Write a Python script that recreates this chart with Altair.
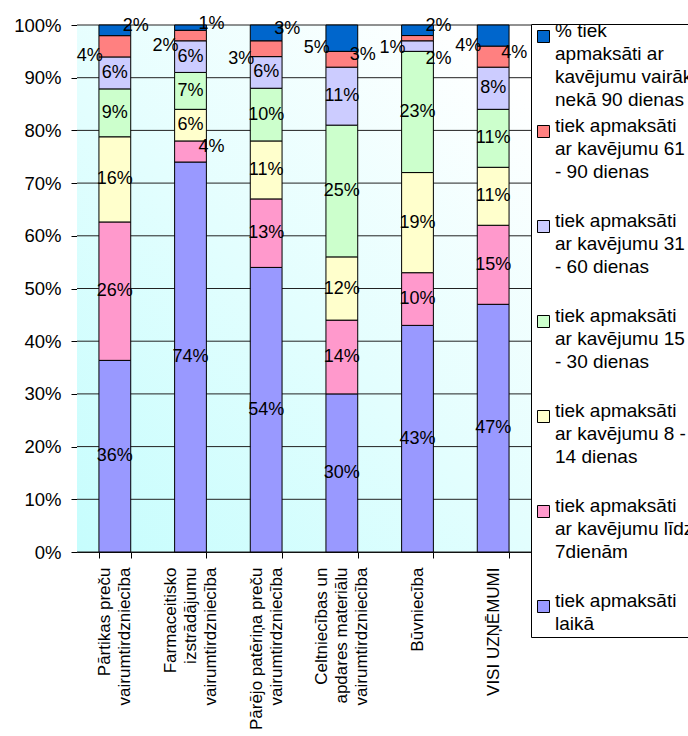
import altair as alt
import pandas as pd

# ---------------- data ----------------
categories = [
    "Pārtikas preču\nvairumtirdzniecība",
    "Farmaceitisko\nizstrādājumu\nvairumtirdzniecība",
    "Pārējo patēriņa preču\nvairumtirdzniecība",
    "Celtniecības un\napdares materiālu\nvairumtirdzniecība",
    "Būvniecība",
    "VISI UZŅĒMUMI",
]

series_names = [
    "tiek apmaksāti\nlaikā",
    "tiek apmaksāti\nar kavējumu līdz\n7dienām",
    "tiek apmaksāti\nar kavējumu 8 -\n14 dienas",
    "tiek apmaksāti\nar kavējumu 15\n- 30 dienas",
    " tiek apmaksāti\nar kavējumu 31\n- 60 dienas",
    "tiek apmaksāti\nar kavējumu 61\n- 90 dienas",
    "% tiek\napmaksāti ar\nkavējumu vairāk\nnekā  90 dienas",
]
series_colors = ["#9999ff", "#ff99cc", "#ffffcc", "#ccffcc", "#ccccff", "#ff8080", "#0066cc"]

v_laika = [36, 74, 54, 30, 43, 47]
v_lidz7 = [26, 4, 13, 14, 10, 15]
v_8_14 = [16, 6, 11, 12, 19, 11]
v_15_30 = [9, 7, 10, 25, 23, 11]
v_31_60 = [6, 6, 6, 11, 2, 8]
v_61_90 = [4, 2, 3, 3, 1, 4]
v_90plus = [2, 1, 3, 5, 2, 4]
series_values = [v_laika, v_lidz7, v_8_14, v_15_30, v_31_60, v_61_90, v_90plus]

y_ticks = [0.0, 0.1, 0.2, 0.3, 0.4, 0.5, 0.6, 0.7, 0.8, 0.9, 1.0]

# ---------------- table ----------------
rows = []
for si, (name, vals) in enumerate(zip(series_names, series_values)):
    for ci, cat in enumerate(categories):
        rows.append({"cat": cat, "series": name, "idx": si, "value": vals[ci]})
df = pd.DataFrame(rows)

W, H = 454, 527
FONT = "Liberation Sans"
X_LINE_H = 20

x_enc = alt.X(
    "cat:N",
    sort=categories,
    scale=alt.Scale(paddingInner=0.58, paddingOuter=0.29),
    axis=alt.Axis(
        title=None,
        labelAngle=-90,
        labelAlign="right",
        labelBaseline="middle",
        labelExpr="split(datum.label, '\\n')",
        labelOffset=alt.ExprRef(
            expr=f"-(length(split(datum.value, '\\n')) - 1) * {X_LINE_H / 2}"
        ),
        labelFontSize=17,
        labelLineHeight=X_LINE_H,
        labelFont=FONT,
        labelColor="black",
        labelPadding=9,
        labelLimit=400,
        tickBand="extent",
        tickSize=6,
        tickColor="black",
        domainColor="black",
        grid=False,
    ),
)

y_scale = alt.Scale(domain=[0, 1], nice=False, zero=True)
y_axis = alt.Axis(
    title=None,
    values=y_ticks,
    format=".0%",
    labelFontSize=18.5,
    labelFont=FONT,
    labelColor="black",
    labelPadding=10,
    tickSize=6,
    tickColor="black",
    domainColor="black",
    grid=False,
)

gradient = alt.Gradient(
    gradient="linear",
    stops=[
        alt.GradientStop(color="#c6fdfd", offset=0),
        alt.GradientStop(color="#ffffff", offset=1),
    ],
    x1=0, y1=1, x2=0.85, y2=0,
)

background = alt.Chart(alt.Data(values=[{}])).mark_rect(color=gradient).encode(
    x=alt.value(0), x2=alt.value(W), y=alt.value(0), y2=alt.value(H)
)

grid = alt.Chart(pd.DataFrame({"v": y_ticks})).mark_rule(
    color="#222222", strokeWidth=1
).encode(y=alt.Y("v:Q", scale=y_scale, axis=y_axis))

stacked = alt.Chart(df).transform_stack(
    stack="value",
    groupby=["cat"],
    sort=[alt.SortField("idx", order="ascending")],
    as_=["y0", "y1"],
    offset="normalize",
).transform_calculate(
    topval="datum.idx == 6 ? datum.value : 0",
).transform_joinaggregate(
    topv="max(topval)", groupby=["cat"]
).transform_calculate(
    mid="(datum.y0 + datum.y1) / 2",
    lab="datum.value + '%'",
    side=(
        "datum.value >= 6 ? 'c' : "
        "datum.idx == 6 ? (datum.topv >= 4 ? 'l' : 'r') : "
        "datum.idx == 5 ? (datum.topv >= 4 ? 'r' : 'l') : "
        "datum.idx == 4 ? 'r2' : "
        "datum.idx == 1 ? 'r' : 'l'"
    ),
)

bars = stacked.mark_bar(stroke="black", strokeWidth=1).encode(
    x=x_enc,
    y=alt.Y("y0:Q", scale=y_scale, axis=y_axis),
    y2="y1:Q",
    color=alt.Color(
        "series:N",
        scale=alt.Scale(domain=series_names[::-1], range=series_colors[::-1]),
        legend=alt.Legend(
            title=None,
            orient="none",
            legendX=W,
            legendY=-1,
            labelExpr="split(datum.label, '\\n')",
            labelFontSize=19,
            labelFont=FONT,
            labelColor="black",
            labelBaseline="alphabetic",
            labelLimit=400,
            labelOffset=2,
            symbolType="square",
            symbolSize=144,
            symbolStrokeColor="black",
            symbolStrokeWidth=1,
            symbolOpacity=1,
            strokeColor="black",
            fillColor="white",
            padding=3,
            gridAlign="all",
            rowPadding=6,
        ),
    ),
)

def text_layer(side, align, dx, dy):
    return stacked.transform_filter(f"datum.side == '{side}'").mark_text(
        fontSize=18, font=FONT, color="black", align=align, baseline="middle",
        dx=dx, dy=dy,
    ).encode(
        x=alt.X("cat:N", sort=categories),
        y=alt.Y("mid:Q", scale=y_scale),
        text="lab:N",
    )

labels_c = text_layer("c", "center", 0, 0)
labels_r = text_layer("r", "left", 8, -4)
labels_r2 = text_layer("r2", "left", 8, 13)
labels_l = text_layer("l", "right", -12, 10)

chart = alt.layer(
    background, grid, bars, labels_c, labels_r, labels_r2, labels_l
).properties(
    width=W,
    height=H,
    autosize=alt.AutoSizeParams(type="none"),
    padding={"left": 77, "top": 25, "right": 157, "bottom": 184},
    background="white",
).configure_view(stroke=None).configure(
    style={"guide-label": {"lineHeight": 23}}
)

chart.save("out.html", embed_options={"renderer": "svg", "actions": False})
